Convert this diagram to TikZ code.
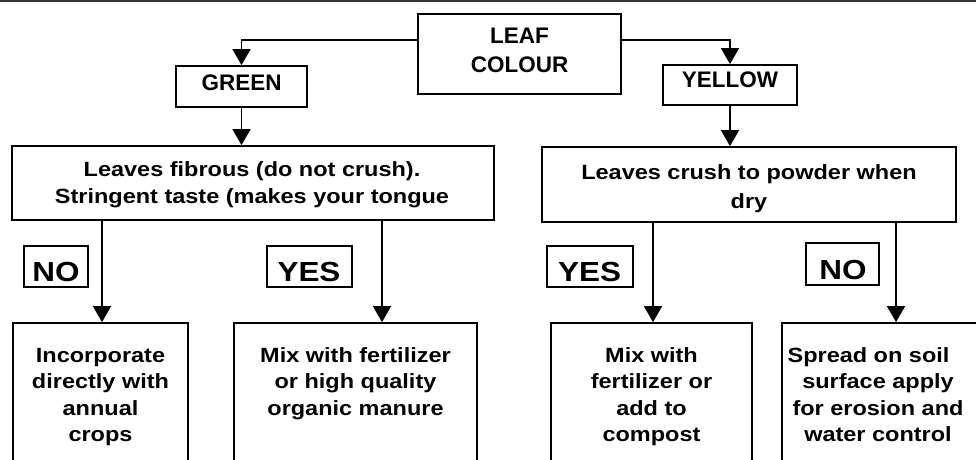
\documentclass[tikz,border=0pt]{standalone}
\usepackage{fontspec}
\setmainfont{Liberation Sans}
\newfontfamily\bodyfont[FakeStretch=1.14]{Liberation Sans}
\usetikzlibrary{arrows.meta}
\tikzset{
  box/.style={draw, line width=1.8pt, inner sep=0pt},
  labbox/.style={draw, line width=1.4pt, inner sep=0pt},
  arr/.style={line width=1.8pt, -{Triangle[width=18pt,length=16pt]}},
  toptext/.style={font=\fontsize{22.5}{28.7}\selectfont\bfseries, align=center, anchor=base, inner sep=0pt},
  bodytext/.style={font=\bodyfont\fontsize{20.6}{26.5}\selectfont\bfseries, align=center, anchor=base, inner sep=0pt},
  labtext/.style={font=\bodyfont\fontsize{27.6}{30}\selectfont\bfseries, anchor=base, inner sep=0pt}
}
\begin{document}
\begin{tikzpicture}[x=1pt,y=1pt]
\useasboundingbox (0,0) rectangle (976,459);
\clip (0,0) rectangle (976,459);
\draw[line width=2pt, black!80] (0,458) -- (976,458);
% boxes
\node[box, minimum width=203pt, minimum height=80pt] (leaf) at (519.5,405) {};
\node[box, minimum width=131pt, minimum height=41pt] (green) at (241.5,372.5) {};
\node[box, minimum width=134pt, minimum height=40pt] (yellow) at (730,374) {};
\node[box, minimum width=482pt, minimum height=74pt] (lbig) at (253,276) {};
\node[box, minimum width=414pt, minimum height=75pt] (rbig) at (749,274.5) {};
\node[labbox, minimum width=64pt, minimum height=41pt] (no1) at (56,192.5) {};
\node[labbox, minimum width=85pt, minimum height=41pt] (yes1) at (309.5,192.5) {};
\node[labbox, minimum width=86pt, minimum height=41pt] (yes2) at (590,192.5) {};
\node[labbox, minimum width=73pt, minimum height=42pt] (no2) at (842.5,195) {};
\node[box, minimum width=175pt, minimum height=156pt] (b1) at (100.5,58) {};
\node[box, minimum width=243pt, minimum height=156pt] (b2) at (355.5,58) {};
\node[box, minimum width=201pt, minimum height=156pt] (b3) at (651.5,58) {};
\node[box, minimum width=220pt, minimum height=156pt] (b4) at (892,58) {};
% texts (anchor base = baseline of the last line)
\node[toptext] (leaft) at (519.5,386.3) {LEAF\\COLOUR};
\node[toptext] (greent) at (241.7,369) {GREEN};
\node[toptext] (yellowt) at (730,372) {YELLOW};
\node[bodytext] (lbigt) at (252,255.7) {Leaves fibrous (do not crush).\\Stringent taste (makes your tongue};
\node[bodytext, font=\bodyfont\fontsize{20.6}{29}\selectfont\bfseries] (rbigt) at (749,251) {Leaves crush to powder when\\dry};
\node[labtext] (no1t) at (56,177.5) {NO};
\node[labtext] (yes1t) at (309,177.5) {YES};
\node[labtext] (yes2t) at (589.5,177.3) {YES};
\node[labtext] (no2t) at (843,179.7) {NO};
\node[bodytext] (b1t) at (100.5,17.5) {Incorporate\\directly with\\annual\\crops};
\node[bodytext] (b2t) at (355.5,44) {Mix with fertilizer\\or high quality\\organic manure};
\node[bodytext] (b3t) at (651.5,17.5) {Mix with\\fertilizer or\\add to\\compost};
\node[bodytext] (b4t) at (878,17.5) {Spread on soil\hspace*{19pt}\\surface apply\\for erosion and\\water control};
% connectors
\coordinate (lj) at (0,419);
\coordinate (xa) at (102,0);
\coordinate (xb) at (382,0);
\coordinate (xc) at (653,0);
\coordinate (xd) at (896,0);
\draw[arr] (leaf.west |- lj) -| (green.north);
\draw[arr] (leaf.east |- lj) -| (yellow.north);
\draw[arr] (green.south) -- (green.south |- lbig.north);
\draw[arr] (yellow.south) -- (yellow.south |- rbig.north);
\draw[arr] (lbig.south -| xa) -- (b1.north -| xa);
\draw[arr] (lbig.south -| xb) -- (b2.north -| xb);
\draw[arr] (rbig.south -| xc) -- (b3.north -| xc);
\draw[arr] (rbig.south -| xd) -- (b4.north -| xd);
\end{tikzpicture}
\end{document}
